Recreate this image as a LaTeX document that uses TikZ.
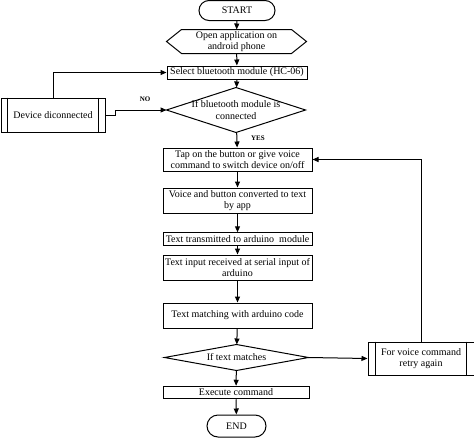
\documentclass[tikz,border=0pt]{standalone}
\usepackage{fontspec}
\setmainfont{Liberation Serif}
\usetikzlibrary{arrows.meta}
\begin{document}
\begin{tikzpicture}[x=1pt,y=-1pt,
 base/.style={font=\fontsize{10}{11.5}\selectfont, align=center, inner sep=0pt, line width=1pt},
 proc/.style={base, draw, rectangle},
 ghost/.style={base, rectangle},
 term/.style={base, draw, rounded corners=10pt},
 lbl/.style={font=\fontsize{7}{8}\selectfont\bfseries, inner sep=0pt},
 arr/.style={line width=1pt, -{Triangle[length=6pt,width=5pt]}},
 ln/.style={line width=1pt}]
\useasboundingbox (0,0) rectangle (474,442);

\node[term, minimum width=76pt, minimum height=20pt] (start) at (237,10.5) {START};

\node[ghost, minimum width=139pt, minimum height=23pt] (open) at (236.5,41.5) {Open application on\\android phone};
\draw[ln] ([xshift=15pt]open.north west) -- ([xshift=-15pt]open.north east) -- (open.east) -- ([xshift=-15pt]open.south east) -- ([xshift=15pt]open.south west) -- (open.west) -- cycle;

\node[proc, minimum width=140pt, minimum height=13pt] (select) at (237,72.5) {Select bluetooth module (HC-06)};

\node[ghost, minimum width=138pt, minimum height=44pt] (c1) at (236,110) {If bluetooth module is\\connected};
\draw[ln] (c1.north) -- (c1.east) -- (c1.south) -- (c1.west) -- cycle;

\node[proc, minimum width=149pt, minimum height=23pt] (tap) at (237.5,159.5) {Tap on the button or give voice\\command to switch device on/off};
\node[proc, minimum width=149pt, minimum height=25pt] (voice) at (237.5,200.5) {Voice and button converted to text\\by app};
\node[proc, minimum width=149pt, minimum height=12.5pt] (trans) at (237.5,239) {Text transmitted to arduino\ \ module};
\node[proc, minimum width=149pt, minimum height=25pt] (input) at (237.5,267.5) {Text input received at serial input of\\arduino};
\node[proc, minimum width=149pt, minimum height=25pt] (match) at (237.5,315.5) {Text matching with arduino code};

\node[ghost, minimum width=143pt, minimum height=25pt] (c2) at (236.5,357.5) {If text matches};
\draw[ln] (c2.north) -- (c2.east) -- (c2.south) -- (c2.west) -- cycle;

\node[proc, minimum width=146pt, minimum height=12.5pt] (exec) at (236,392.5) {Execute command};
\node[term, minimum width=59pt, minimum height=22pt, rounded corners=11pt] (end) at (236.5,426) {END};

\node[proc, minimum width=106pt, minimum height=33pt] (retry) at (421,358.5) {For voice command\\retry again};
\draw[ln] ([xshift=8pt]retry.north west) -- ([xshift=8pt]retry.south west);
\draw[ln] ([xshift=-8pt]retry.north east) -- ([xshift=-8pt]retry.south east);

\node[proc, minimum width=104pt, minimum height=34pt] (disc) at (53,115) {Device diconnected};
\draw[ln] ([xshift=7pt]disc.north west) -- ([xshift=7pt]disc.south west);
\draw[ln] ([xshift=-7pt]disc.north east) -- ([xshift=-7pt]disc.south east);

\node[lbl] (yes) at (258,138) {YES};
\node[lbl] (no) at (145,99) {NO};

\draw[arr] (start) -- (open);
\draw[arr] (open) -- (select);
\draw[arr] (select) -- (c1);
\draw[arr] (c1) -- (tap);
\draw[arr] (disc.east) -- ++(10,0) |- (c1.west);
\draw[arr] (disc.north) |- (select.west);
\draw[arr] (tap) -- (voice);
\draw[arr] (voice) -- (trans);
\draw[arr] (trans) -- (input);
\draw[arr] (input) -- (match);
\draw[arr] (match) -- (c2);
\draw[arr] (c2) -- (exec);
\draw[arr] (exec) -- (end);
\draw[arr] (c2.east) -- (retry.west);
\draw[arr] (retry.north) |- (tap.east);
\end{tikzpicture}
\end{document}
